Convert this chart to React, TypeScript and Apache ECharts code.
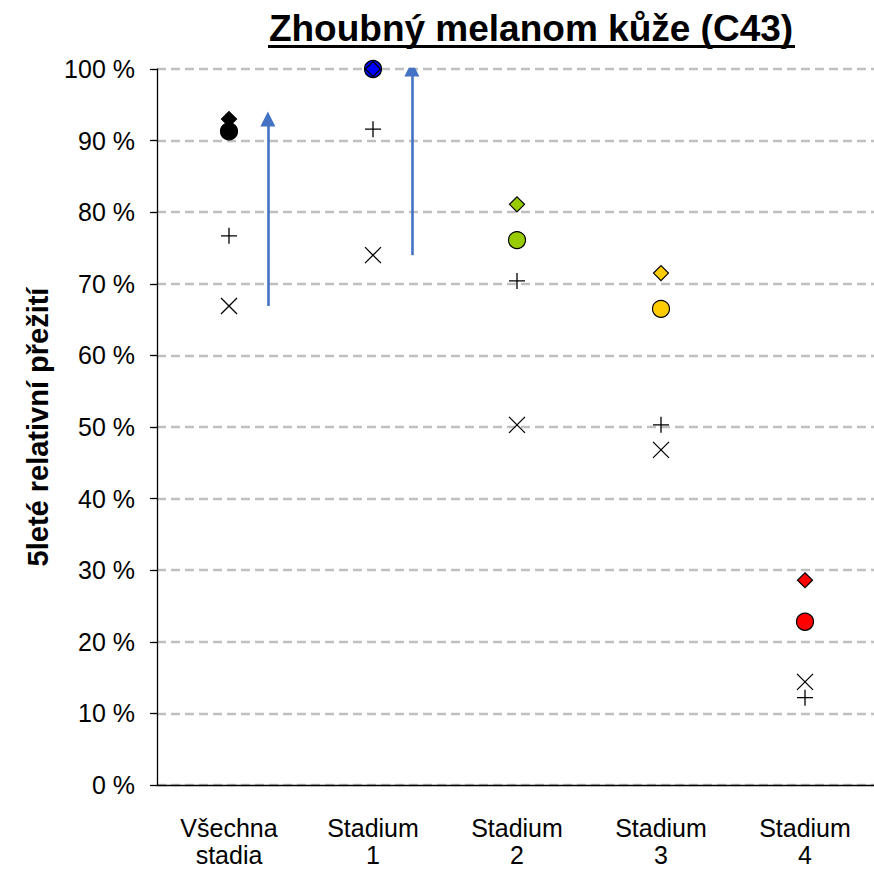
import React, { useEffect, useRef } from "react";
import * as echarts from "echarts";

const categories = ["Všechna\nstadia", "Stadium\n1", "Stadium\n2", "Stadium\n3", "Stadium\n4"];
const categoryColors = ["#000000", "#0000FF", "#99CC00", "#FFCC00", "#FF0000"];
const diamondValues = [93.0, 100.0, 81.1, 71.5, 28.6];
const circleValues = [91.3, 100.0, 76.1, 66.5, 22.8];
const plusValues = [76.7, 91.6, 70.4, 50.3, 12.2];
const crossValues = [66.9, 74.0, 50.3, 46.8, 14.4];
const yTicks = [0, 10, 20, 30, 40, 50, 60, 70, 80, 90, 100];
// arrows: category index, from value, to value
const arrowCategory = [0, 1];
const arrowFrom = [66.9, 74.0];
const arrowTo = [93.0, 100.0];
const titleText = "Zhoubný melanom kůže (C43)";
const yAxisTitle = "5leté relativní přežití";

const FONT = "'Liberation Sans', Arial, Helvetica, sans-serif";
const ARROW_SHIFT = 0.27; // arrow placed to the right of category centre (in category units)

export default function App() {
  const ref = useRef<HTMLDivElement>(null);
  useEffect(() => {
    document.body.style.margin = "0";
    document.body.style.overflow = "hidden";
    document.documentElement.style.overflow = "hidden";
    const chart = echarts.init(ref.current!, null, { renderer: "svg" });
    const plusPath = "path://M0,8L16,8M8,0L8,16";
    const crossPath = "path://M0,0L16,16M16,0L0,16";
    const colored = (vals: number[]) =>
      vals.map((v, i) => ({ value: [i, v], itemStyle: { color: categoryColors[i] } }));
    chart.setOption({
      animation: false,
      backgroundColor: "#ffffff",
      textStyle: { fontFamily: FONT },
      grid: {
        left: 157,
        top: 69,
        width: 720,
        height: 716,
        containLabel: false,
        outerBoundsMode: "none",
      },
      graphic: [
        {
          type: "text",
          x: 531,
          y: 28,
          style: {
            text: titleText,
            font: `bold 37px ${FONT}`,
            fill: "#000",
            textAlign: "center",
            textVerticalAlign: "middle",
          },
        },
        { type: "rect", shape: { x: 268, y: 45, width: 527, height: 3 }, style: { fill: "#000" } },
      ],
      xAxis: [
        {
          type: "category",
          data: categories,
          boundaryGap: true,
          axisLine: { show: true, lineStyle: { color: "#000", width: 1.3 } },
          axisTick: { show: false },
          splitLine: { show: false },
          axisLabel: {
            color: "#000",
            fontSize: 25,
            fontFamily: FONT,
            lineHeight: 27,
            margin: 29,
            interval: 0,
          },
        },
        { type: "value", min: 0, max: 5, show: false },
      ],
      yAxis: {
        type: "value",
        min: 0,
        max: 100,
        interval: 10,
        name: yAxisTitle,
        nameLocation: "middle",
        nameGap: 105,
        nameTextStyle: { fontSize: 29, fontWeight: "bold", color: "#000", fontFamily: FONT },
        axisLine: { show: true, lineStyle: { color: "#000", width: 1.3 } },
        axisTick: { show: true, length: 7, lineStyle: { color: "#000", width: 1.3 } },
        axisLabel: {
          color: "#000",
          fontSize: 25,
          fontFamily: FONT,
          margin: 22,
          formatter: (v: number) => (yTicks.includes(v) ? `${v} %` : ""),
        },
        splitLine: {
          show: true,
          lineStyle: { color: "#C0C0C0", width: 2.4, type: [9, 5] },
        },
      },
      series: [
        {
          type: "scatter",
          symbol: crossPath,
          symbolSize: 16,
          itemStyle: { color: "transparent", borderColor: "#000", borderWidth: 1.3, opacity: 1 },
          data: crossValues.map((v, i) => [i, v]),
        },
        {
          type: "scatter",
          symbol: plusPath,
          symbolSize: 16,
          itemStyle: { color: "transparent", borderColor: "#000", borderWidth: 1.3, opacity: 1 },
          data: plusValues.map((v, i) => [i, v]),
        },
        {
          type: "scatter",
          symbol: "circle",
          symbolSize: 17,
          itemStyle: { borderColor: "#000", borderWidth: 1.2, opacity: 1 },
          data: colored(circleValues),
        },
        {
          type: "scatter",
          symbol: "diamond",
          symbolSize: 15,
          itemStyle: { borderColor: "#000", borderWidth: 1.2, opacity: 1 },
          data: colored(diamondValues),
        },
        {
          type: "lines",
          coordinateSystem: "cartesian2d",
          xAxisIndex: 1,
          yAxisIndex: 0,
          symbol: ["none", "triangle"],
          symbolSize: 15,
          lineStyle: { color: "#4472C4", width: 2.6, opacity: 1 },
          data: arrowCategory.map((c, i) => ({
            coords: [
              [c + 0.5 + ARROW_SHIFT, arrowFrom[i]],
              [c + 0.5 + ARROW_SHIFT, arrowTo[i]],
            ],
          })),
        },
      ],
    });
    return () => chart.dispose();
  }, []);
  return (
    <div
      ref={ref}
      style={{ position: "absolute", left: 0, top: 0, width: 874, height: 869, overflow: "hidden" }}
    />
  );
}
